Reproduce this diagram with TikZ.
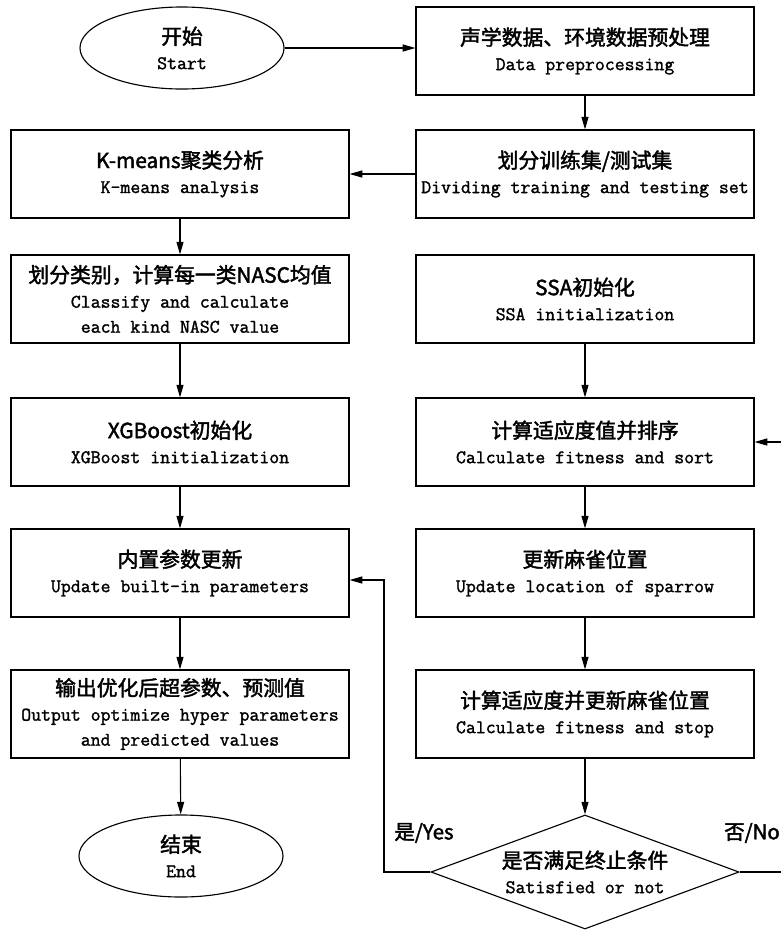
\documentclass[tikz,border=0pt]{standalone}
\usepackage{fontspec}
\newfontfamily\cjk{Noto Sans CJK SC}[FakeBold=2]
\newfontfamily\entt{Latin Modern Mono}[FakeBold=1.5]
\usetikzlibrary{shapes.geometric,arrows.meta}
\newcommand{\zh}[1]{{\cjk\fontsize{14.8pt}{17.5pt}\selectfont #1}}

\begin{document}
\begin{tikzpicture}
            [x=0.025cm, y=-0.025cm, line width=0.8pt, >={Triangle[length=9pt,width=5pt]},
             box/.style={draw, rectangle, minimum width=8.45cm, minimum height=2.2cm, inner sep=0.5pt, align=center, font=\entt\fontsize{13.7pt}{17.8pt}\selectfont},
             term/.style={draw, ellipse, minimum width=5.1cm, minimum height=2.05cm, inner sep=0pt, align=center, font=\entt\fontsize{13.7pt}{17.8pt}\selectfont},
             judge/.style={draw, diamond, aspect=2.7, minimum width=7.7cm, minimum height=2.85cm, inner sep=0pt, align=center, font=\entt\fontsize{13.7pt}{17.8pt}\selectfont},
             flag/.style={font=\cjk\fontsize{14.5pt}{17pt}\selectfont}]
            \useasboundingbox (0,0) rectangle (781,930);
            \node[term] (start) at (182,48) {\zh{开始}\\Start};
            \node[box] (prep) at (585,51) {\zh{声学数据、环境数据预处理}\\Data preprocessing};
            \node[box] (split) at (585,174) {\zh{划分训练集/测试集}\\Dividing training and testing set};
            \node[box] (kmeans) at (180,174) {\zh{K-means聚类分析}\\K-means analysis};
            \node[box] (classify) at (180,299) {\zh{划分类别，计算每一类NASC均值}\\Classify and calculate\\each kind NASC value};
            \node[box] (ssa) at (585,299) {\zh{SSA初始化}\\SSA initialization};
            \node[box] (xgb) at (180,442) {\zh{XGBoost初始化}\\XGBoost initialization};
            \node[box] (fitness) at (585,442) {\zh{计算适应度值并排序}\\Calculate fitness and sort};
            \node[box] (params) at (180,573) {\zh{内置参数更新}\\Update built-in parameters};
            \node[box] (sparrow) at (585,573) {\zh{更新麻雀位置}\\Update location of sparrow};
            \node[box] (result) at (180,714) {\zh{输出优化后超参数、预测值}\\Output optimize hyper parameters\\and predicted values};
            \node[box] (stop) at (585,714) {\zh{计算适应度并更新麻雀位置}\\Calculate fitness and stop};
            \node[judge] (check) at (585,872) {\zh{是否满足终止条件}\\Satisfied or not};
            \node[term] (end) at (181,856) {\zh{结束}\\End};
            \node[flag] (yes) at (424,833) {是/Yes};
            \node[flag] (no) at (752,833) {否/No};
            \coordinate (yesbend) at (384,580);
            \coordinate (nobend) at (790,442);
            \draw[->] (start.east) -- (start.east -| prep.west);
            \draw[->] (prep) -- (split);
            \draw[->] (split) -- (kmeans);
            \draw[->] (kmeans) -- (classify);
            \draw[->] (classify) -- (xgb);
            \draw[->] (xgb) -- (params);
            \draw[->] (params) -- (result);
            \draw[->] (result) -- (end);
            \draw[->] (ssa) -- (fitness);
            \draw[->] (fitness) -- (sparrow);
            \draw[->] (sparrow) -- (stop);
            \draw[->] (stop) -- (check);
            \draw[->] (check.west) -| (yesbend) -- (yesbend -| params.east);
            \draw[->] (check.east) -| (nobend) -- (fitness.east);
        \end{tikzpicture}
\end{document}
